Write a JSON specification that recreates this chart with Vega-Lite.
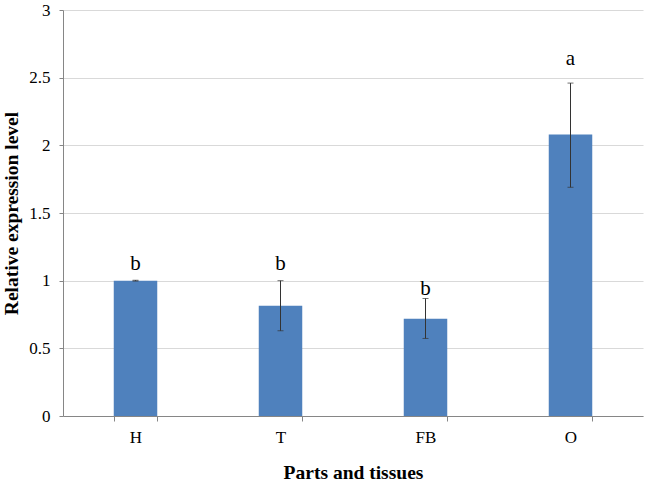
{
  "$schema": "https://vega.github.io/schema/vega-lite/v6.json",
  "width": 580,
  "height": 406,
  "autosize": "none",
  "padding": {"left": 63, "top": 10, "right": 7, "bottom": 68},
  "background": "white",
  "config": {
    "view": {"stroke": null},
    "font": "Liberation Serif"
  },
  "data": {
    "values": [
      {"part": "H", "value": 1.0, "lo": 0.997, "hi": 1.003, "letter": "b", "ly": 1.12},
      {"part": "T", "value": 0.814, "lo": 0.63, "hi": 1.0, "letter": "b", "ly": 1.12},
      {"part": "FB", "value": 0.718, "lo": 0.573, "hi": 0.868, "letter": "b", "ly": 0.942},
      {"part": "O", "value": 2.08, "lo": 1.69, "hi": 2.46, "letter": "a", "ly": 2.64}
    ]
  },
  "encoding": {
    "x": {
      "field": "part",
      "type": "nominal",
      "sort": ["H", "T", "FB", "O"],
      "scale": {"paddingInner": 0.7, "paddingOuter": 0.35},
      "axis": {
        "title": "Parts and tissues",
        "titleFont": "Liberation Serif",
        "titleFontSize": 19.5,
        "titleFontWeight": "bold",
        "titleColor": "black",
        "titlePadding": 18,
        "labelFont": "Liberation Serif",
        "labelFontSize": 17,
        "labelColor": "black",
        "labelAngle": 0,
        "labelPadding": 8,
        "tickBand": "extent",
        "tickSize": 5,
        "tickColor": "#868686",
        "domainColor": "#868686",
        "grid": false
      }
    }
  },
  "layer": [
    {
      "mark": {"type": "bar", "color": "#4F81BD"},
      "encoding": {
        "y": {
          "field": "value",
          "type": "quantitative",
          "scale": {"domain": [0, 3], "nice": false},
          "axis": {
            "title": "Relative expression level",
            "titleFont": "Liberation Serif",
            "titleFontSize": 19.5,
            "titleFontWeight": "bold",
            "titleColor": "black",
            "titlePadding": 7,
            "values": [0, 0.5, 1, 1.5, 2, 2.5, 3],
            "format": "~g",
            "labelFont": "Liberation Serif",
            "labelFontSize": 17,
            "labelColor": "black",
            "labelPadding": 9,
            "tickSize": 4,
            "tickColor": "#868686",
            "domainColor": "#868686",
            "gridColor": "#D9D9D9",
            "gridWidth": 1
          }
        }
      }
    },
    {
      "mark": {"type": "rule", "color": "#333333", "strokeWidth": 1},
      "encoding": {
        "y": {"field": "lo", "type": "quantitative"},
        "y2": {"field": "hi"}
      }
    },
    {
      "mark": {"type": "tick", "color": "#333333", "thickness": 1, "size": 6, "orient": "horizontal"},
      "encoding": {
        "y": {"field": "lo", "type": "quantitative"}
      }
    },
    {
      "mark": {"type": "tick", "color": "#333333", "thickness": 1, "size": 6, "orient": "horizontal"},
      "encoding": {
        "y": {"field": "hi", "type": "quantitative"}
      }
    },
    {
      "mark": {"type": "text", "font": "Liberation Serif", "fontSize": 21, "color": "black", "baseline": "middle"},
      "encoding": {
        "y": {"field": "ly", "type": "quantitative"},
        "text": {"field": "letter"}
      }
    }
  ]
}
